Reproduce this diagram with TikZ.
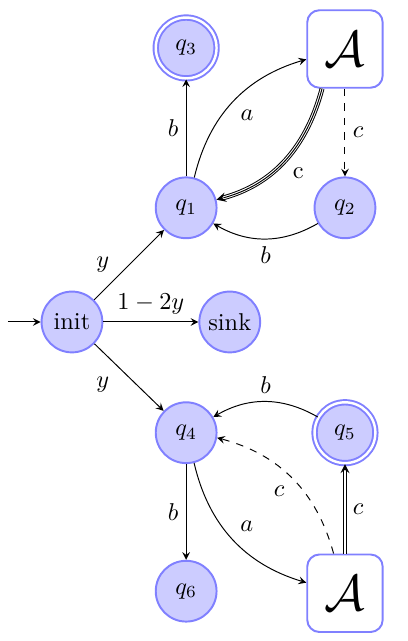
\documentclass[tikz,border=0pt]{standalone}
\usepackage{amsmath,amssymb}
\usepackage{tikz}
\usepackage{xcolor}

\begin{document}
\begin{tikzpicture}[x=1cm,y=1cm,>=stealth,
  every node/.style={font=\normalsize},
  st/.style={circle,draw=blue!50,fill=blue!20,thick,minimum size=25pt,inner sep=0pt},
  acc/.style={st,double,double distance=1pt},
  abox/.style={draw=blue!50,fill=white,thick,rounded corners=5pt,minimum width=1.09cm,minimum height=1.12cm,inner sep=0pt,font=\huge},
  lbl/.style={auto,inner sep=3pt}]
\useasboundingbox (-1.04,-4.61) rectangle (4.855,4.653);
\node[st] (init) at (0,0) {init};
\node[st] (sink) at (2.28,0) {sink};
\node[st] (q1) at (1.65,1.65) {$q_1$};
\node[st] (q2) at (3.945,1.65) {$q_2$};
\node[acc] (q3) at (1.65,3.96) {$q_3$};
\node[abox] (A1) at (3.945,3.945) {$\mathcal{A}$};
\node[st] (q4) at (1.65,-1.60) {$q_4$};
\node[acc] (q5) at (3.945,-1.60) {$q_5$};
\node[st] (q6) at (1.65,-3.89) {$q_6$};
\node[abox] (A2) at (3.945,-3.92) {$\mathcal{A}$};
\coordinate (start) at (-0.925,0);
\draw[->] (start) -- (init);
\draw[->] (init) -- node[lbl,pos=0.5,left=5pt] {$y$} (q1);
\draw[->] (init) -- node[lbl,above] {$1-2y$} (sink);
\draw[->] (init) -- node[lbl,pos=0.5,left=5pt,yshift=-3pt] {$y$} (q4);
\draw[->] (q1) -- node[lbl] {$b$} (q3);
\draw[->] (q1) to[bend left=30] node[lbl,swap] {$a$} (A1);
\draw[->,double,double distance=1.2pt] (A1.240) to[out=255,in=15] node[lbl] {c} (q1);
\draw[shorten >=3pt] (A1.240) to[out=255,in=15] (q1);
\draw[->,dashed] (A1) -- node[lbl] {$c$} (q2);
\draw[->] (q2) to[bend left=30] node[lbl] {$b$} (q1);
\draw[->] (q5) to[bend right=30] node[lbl,swap] {$b$} (q4);
\draw[->,dashed] (A2.106) to[bend right=30] node[lbl] {$c$} (q4);
\draw[->,double,double distance=0.8pt] (A2) -- node[lbl,swap] {$c$} (q5);
\draw[->] (q4) to[bend right=30] node[lbl] {$a$} (A2);
\draw[->] (q4) -- node[lbl,swap] {$b$} (q6);
\end{tikzpicture}
\end{document}
